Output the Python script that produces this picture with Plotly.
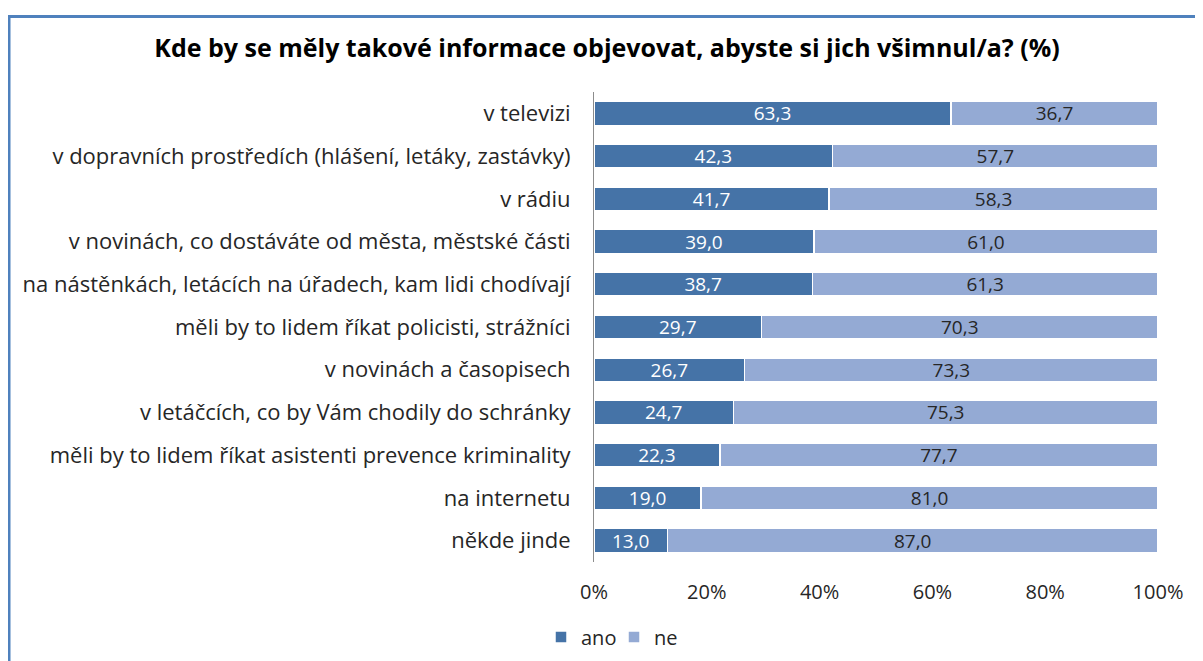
import plotly.graph_objects as go

categories = [
    "v televizi",
    "v dopravních prostředích (hlášení, letáky, zastávky)",
    "v rádiu",
    "v novinách, co dostáváte od města, městské části",
    "na nástěnkách, letácích na úřadech, kam lidi chodívají",
    "měli by to lidem říkat policisti, strážníci",
    "v novinách a časopisech",
    "v letáčcích, co by Vám chodily do schránky",
    "měli by to lidem říkat asistenti prevence kriminality",
    "na internetu",
    "někde jinde",
]
ano = [63.3, 42.3, 41.7, 39.0, 38.7, 29.7, 26.7, 24.7, 22.3, 19.0, 13.0]
ne = [36.7, 57.7, 58.3, 61.0, 61.3, 70.3, 73.3, 75.3, 77.7, 81.0, 87.0]
tick_vals = [0, 20, 40, 60, 80, 100]
tick_text = ["0%", "20%", "40%", "60%", "80%", "100%"]

FONT = "Open Sans"
C_ANO = "#4573A7"
C_NE = "#94AAD4"

# page has an 8px body margin -> figure is drawn 8px in from the window corner
OFF = 8
W, H = 1203 - OFF, 661 - OFF
# plot area in window pixels: x 594..1158, y 92..562
L, R = 594 - OFF, W - (1158 - OFF)
T, B = 92 - OFF, H - (562 - OFF)
pw, ph = W - L - R, H - T - B


def px(x):  # window pixel -> paper x
    return (x - OFF - L) / pw


def py(y):  # window pixel -> paper y
    return 1 - (y - OFF - T) / ph


fig = go.Figure()
fig.add_trace(go.Bar(
    y=categories, x=ano, name="ano", orientation="h",
    marker=dict(color=C_ANO, line=dict(color="white", width=1.5)),
    texttemplate="%{x:.1f}", textposition="inside", insidetextanchor="middle",
    constraintext="none",
    textfont=dict(color="white", size=19, family=FONT),
    hoverinfo="skip",
))
fig.add_trace(go.Bar(
    y=categories, x=ne, name="ne", orientation="h",
    marker=dict(color=C_NE, line=dict(color="white", width=1.5)),
    texttemplate="%{x:.1f}", textposition="inside", insidetextanchor="middle",
    constraintext="none",
    textfont=dict(color="#262626", size=19, family=FONT),
    hoverinfo="skip",
))

fig.update_layout(
    barmode="stack",
    bargap=0.44,
    width=W, height=H,
    margin=dict(l=L, r=R, t=T, b=B, autoexpand=False),
    paper_bgcolor="white", plot_bgcolor="white",
    separators=", ",
    font=dict(family=FONT, size=16, color="#262626"),
    title=dict(
        text="<b>Kde by se měly takové informace objevovat, abyste si jich všimnul/a? (%)</b>",
        xref="container", yref="container",
        x=(607 - OFF) / W, xanchor="center", y=1 - (48 - OFF) / H, yanchor="middle",
        font=dict(size=25, color="#000000", family=FONT),
    ),
    xaxis=dict(
        range=[0, 100], tickvals=tick_vals, ticktext=tick_text,
        showgrid=False, zeroline=False, showline=False,
        ticks="", ticklabelstandoff=16,
        tickfont=dict(size=20, color="#262626"),
    ),
    yaxis=dict(
        autorange="reversed", showgrid=False, zeroline=False,
        showline=True, linecolor="#8C8C8C", linewidth=1,
        ticks="", ticklabelstandoff=18,
        tickfont=dict(size=22, color="#262626"),
    ),
    legend=dict(
        orientation="h", x=px(541), xanchor="left", y=py(637), yanchor="middle",
        font=dict(size=20, color="#262626"), traceorder="normal",
        itemwidth=30, entrywidth=28, entrywidthmode="pixels",
    ),
    showlegend=True,
)

# outer frame (left and top edges visible)
fig.add_shape(type="line", xref="paper", yref="paper",
              x0=px(9), x1=px(9), y0=py(15), y1=py(720),
              line=dict(color="#4F81BD", width=3))
fig.add_shape(type="line", xref="paper", yref="paper",
              x0=px(7.5), x1=px(1260), y0=py(16.5), y1=py(16.5),
              line=dict(color="#4F81BD", width=3))

fig.write_html("out.html")
